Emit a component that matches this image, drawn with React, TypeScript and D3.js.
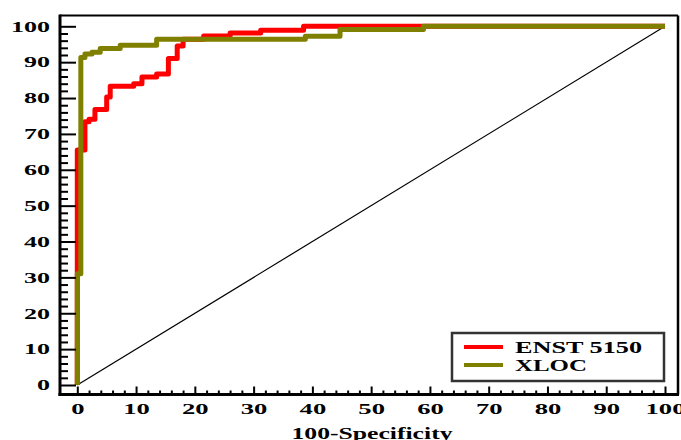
import React, { useEffect, useRef } from "react";
import * as d3 from "d3";

const W = 681;
const H = 440;

// axis ticks
const xTicks = [0, 10, 20, 30, 40, 50, 60, 70, 80, 90, 100];
const yTicks = [0, 10, 20, 30, 40, 50, 60, 70, 80, 90, 100];
const minorTicks = d3.range(0, 101, 2).filter((v) => v % 10 !== 0);

const xTitle = "100-Specificity";
const seriesNames = ["ENST 5150", "XLOC"];
const seriesColors = ["#ff0000", "#808000"];

// ROC corner points (100-Specificity, Sensitivity)
const enstFpr = [0, 0, 1.3, 2, 3, 5, 5.6, 9.6, 11, 13.5, 15.5, 17, 18, 21.5, 26, 31.2, 38.5, 100];
const enstTpr = [0, 65.5, 73.4, 74.1, 76.8, 80.3, 83.3, 84, 85.9, 86.7, 91, 94.5, 96.4, 97.3, 98.1, 98.9, 100, 100];
const xlocFpr = [0, 0, 0.6, 1.3, 2.5, 3.9, 7.3, 13.5, 38.8, 44.7, 58.9, 100];
const xlocTpr = [0, 31, 91.3, 92.3, 92.8, 93.8, 94.7, 96.4, 97.2, 99.1, 100, 100];

const FONT = "'Liberation Serif', 'Times New Roman', serif";

function stretchText(sel: any, charW: number) {
  sel.each(function (this: any) {
    const t = d3.select(this);
    const n = (t.text() || "").length;
    t.attr("textLength", n * charW).attr("lengthAdjust", "spacingAndGlyphs");
  });
}

export default function App() {
  const ref = useRef<SVGSVGElement>(null);

  useEffect(() => {
    const svg = d3.select(ref.current);
    svg.selectAll("*").remove();

    const left = 60, right = 678, top = 15.5, bottom = 394.5;
    const x = d3.scaleLinear().domain([0, 100]).range([77.3, 665]);
    const y = d3.scaleLinear().domain([0, 100]).range([385, 26.3]);

    svg.append("rect").attr("width", W).attr("height", H).attr("fill", "#fff");

    // diagonal reference
    svg.append("line")
      .attr("x1", x(0)).attr("y1", y(0))
      .attr("x2", x(100)).attr("y2", y(100))
      .attr("stroke", "#000").attr("stroke-width", 1.2);

    const line = d3.line<[number, number]>()
      .x((d) => x(d[0]))
      .y((d) => y(d[1]))
      .curve(d3.curveStepAfter);

    const series = [
      enstFpr.map((v, i) => [v, enstTpr[i]] as [number, number]),
      xlocFpr.map((v, i) => [v, xlocTpr[i]] as [number, number]),
    ];
    series.forEach((pts, i) => {
      svg.append("path")
        .attr("d", line(pts))
        .attr("fill", "none")
        .attr("stroke", seriesColors[i])
        .attr("stroke-width", 5)
        .attr("stroke-linejoin", "round");
    });

    // frame
    svg.append("line").attr("x1", left).attr("x2", right).attr("y1", top).attr("y2", top)
      .attr("stroke", "#000").attr("stroke-width", 2);
    svg.append("line").attr("x1", right).attr("x2", right).attr("y1", top).attr("y2", bottom)
      .attr("stroke", "#000").attr("stroke-width", 2.5);

    // y axis
    const gy = svg.append("g").attr("transform", `translate(${left},0)`);
    gy.append("g").call(d3.axisLeft(y).tickValues(minorTicks).tickSize(-8).tickFormat(() => ""))
      .call((g) => g.select(".domain").remove());
    const gyMajor = gy.append("g").call(d3.axisLeft(y).tickValues(yTicks).tickSize(-16).tickPadding(10))
      .call((g) => g.select(".domain").remove());
    gy.selectAll("line").attr("stroke", "#000").attr("stroke-width", 2);
    gyMajor.attr("font-family", FONT).attr("font-size", 15).attr("font-weight", "bold");
    gyMajor.selectAll("text").attr("fill", "#000").call(stretchText, 13);

    // x axis
    const gx = svg.append("g").attr("transform", `translate(0,${bottom})`);
    gx.append("g").call(d3.axisBottom(x).tickValues(minorTicks).tickSize(-4).tickFormat(() => ""))
      .call((g) => g.select(".domain").remove());
    const gxMajor = gx.append("g").call(d3.axisBottom(x).tickValues(xTicks).tickSize(-8).tickPadding(9))
      .call((g) => g.select(".domain").remove());
    gx.selectAll("line").attr("stroke", "#000").attr("stroke-width", 2);
    gxMajor.attr("font-family", FONT).attr("font-size", 15).attr("font-weight", "bold");
    gxMajor.selectAll("text").attr("fill", "#000").call(stretchText, 13.3);

    svg.append("line").attr("x1", left).attr("x2", left).attr("y1", top - 1).attr("y2", bottom + 1.5)
      .attr("stroke", "#000").attr("stroke-width", 3);
    svg.append("line").attr("x1", left - 1.5).attr("x2", right + 1).attr("y1", bottom).attr("y2", bottom)
      .attr("stroke", "#000").attr("stroke-width", 3);

    // x title
    svg.append("text")
      .attr("x", 372).attr("y", 438.5)
      .attr("text-anchor", "middle")
      .attr("font-family", FONT).attr("font-size", 16).attr("font-weight", "bold")
      .attr("textLength", 161).attr("lengthAdjust", "spacingAndGlyphs")
      .text(xTitle);

    // legend
    const lg = svg.append("g");
    lg.append("rect")
      .attr("x", 452).attr("y", 333).attr("width", 212).attr("height", 48)
      .attr("fill", "#fff").attr("stroke", "#333").attr("stroke-width", 2.5);
    const legendW = [127, 72];
    seriesNames.forEach((name, i) => {
      const cy = 347 + i * 18;
      lg.append("line")
        .attr("x1", 464).attr("x2", 503).attr("y1", cy).attr("y2", cy)
        .attr("stroke", seriesColors[i]).attr("stroke-width", 4);
      lg.append("text")
        .attr("x", 515).attr("y", cy + 5.5)
        .attr("font-family", FONT).attr("font-size", 17).attr("font-weight", "bold")
        .attr("textLength", legendW[i]).attr("lengthAdjust", "spacingAndGlyphs")
        .text(name);
    });
  }, []);

  return (
    <svg
      ref={ref}
      width={W}
      height={H}
      style={{ position: "absolute", left: 0, top: 0, display: "block" }}
    />
  );
}
